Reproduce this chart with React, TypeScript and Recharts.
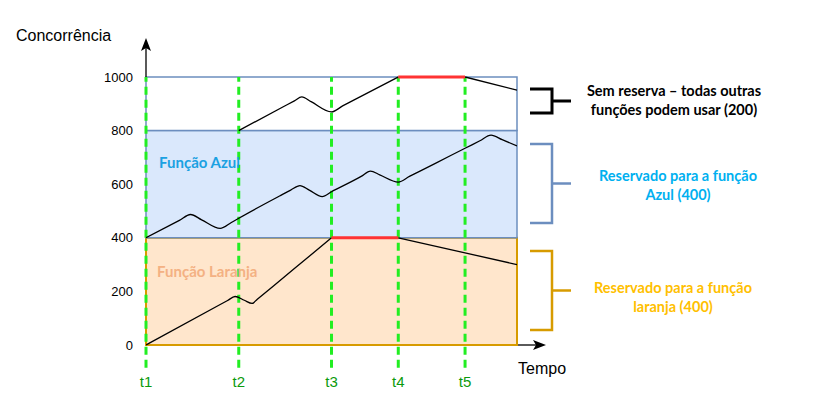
import React from 'react'
import { LineChart, Line, XAxis, YAxis, ReferenceArea, ReferenceLine } from 'recharts'

// time positions (t1..t5) on a 0..100 scale, the chart ends at 100
const tickTimes = [0, 25, 50, 68, 86]
const tickLabels = ['t1', 't2', 't3', 't4', 't5']
const yTicks = [0, 200, 400, 600, 800, 1000]

// orange function usage
const orangeRise = [
  { x: 0, y: 0 },
  { x: 20, y: 151 },
  { x: 22, y: 166 },
  { x: 24, y: 181 },
  { x: 26.5, y: 167 },
  { x: 28.6, y: 155 },
  { x: 30, y: 171 },
  { x: 40, y: 285 },
  { x: 50, y: 400 }
]
const orangeFall = [
  { x: 68, y: 400 },
  { x: 100, y: 300 }
]

// blue function usage
const blueLine = [
  { x: 0, y: 400 },
  { x: 9, y: 465 },
  { x: 12, y: 487 },
  { x: 15, y: 467 },
  { x: 20, y: 435 },
  { x: 23, y: 457 },
  { x: 25, y: 473 },
  { x: 36, y: 556 },
  { x: 39, y: 578 },
  { x: 41.5, y: 595 },
  { x: 44, y: 578 },
  { x: 47.5, y: 554 },
  { x: 50, y: 572 },
  { x: 56, y: 614 },
  { x: 58, y: 629 },
  { x: 60.5, y: 649 },
  { x: 63, y: 635 },
  { x: 68, y: 608 },
  { x: 71, y: 629 },
  { x: 78, y: 678 },
  { x: 86, y: 734 },
  { x: 90, y: 762 },
  { x: 93, y: 783 },
  { x: 96, y: 766 },
  { x: 100, y: 743 }
]

// usage of the unreserved pool
const topRise = [
  { x: 25, y: 800 },
  { x: 37, y: 889 },
  { x: 40, y: 911 },
  { x: 42, y: 926 },
  { x: 44.5, y: 908 },
  { x: 50, y: 870 },
  { x: 53, y: 892 },
  { x: 68, y: 1000 }
]
const topFall = [
  { x: 86, y: 1000 },
  { x: 100, y: 951 }
]

// throttled (limit reached) segments
const redLow = [
  { x: 50, y: 400 },
  { x: 68, y: 400 }
]
const redHigh = [
  { x: 68, y: 1000 },
  { x: 86, y: 1000 }
]

const FONT = '"Liberation Sans", Arial, sans-serif'
const LABEL_FONT = 'Lato, "Open Sans", sans-serif'

function Bracket({ top, bottom, color, width }: { top: number; bottom: number; color: string; width: number }) {
  const mid = (top + bottom) / 2
  return (
    <g stroke={color} strokeWidth={width} fill='none'>
      <polyline points={`530,${top} 552,${top} 552,${bottom} 530,${bottom}`} />
      <line x1={552} y1={mid} x2={571} y2={mid} />
    </g>
  )
}

export default function App() {
  return (
    <div style={{ position: 'relative', width: 823, height: 415, fontFamily: FONT }}>
      <style>{'body{margin:0}'}</style>
      <LineChart
        width={823}
        height={415}
        margin={{ top: 77, right: 306, bottom: 30, left: 86 }}
        style={{ fontFamily: FONT }}
      >
        <XAxis
          dataKey='x'
          type='number'
          domain={[0, 100]}
          ticks={tickTimes}
          tickFormatter={(v: number) => tickLabels[tickTimes.indexOf(v)]}
          axisLine={false}
          tickLine={false}
          tickMargin={25}
          height={40}
          tick={{ fill: '#0c9a0c', fontSize: 15 }}
          allowDataOverflow
        />
        <YAxis
          type='number'
          domain={[0, 1000]}
          ticks={yTicks}
          axisLine={false}
          tickLine={false}
          tickMargin={7}
          width={60}
          tick={{ fill: '#000', fontSize: 13 }}
        />
        <ReferenceArea x1={0} x2={100} y1={0} y2={400} fill='#ffe6cc' fillOpacity={1} stroke='#d79b00' strokeWidth={2} />
        <ReferenceArea x1={0} x2={100} y1={400} y2={800} fill='#dae8fc' fillOpacity={1} stroke='#6c8ebf' strokeWidth={1.5} />
        <ReferenceArea x1={0} x2={100} y1={800} y2={1000} fill='#ffffff' fillOpacity={1} stroke='#6c8ebf' strokeWidth={1.5} />
        {tickTimes.map((t) => (
          <ReferenceLine
            key={t}
            segment={[
              { x: t, y: -85 },
              { x: t, y: 1000 }
            ]}
            stroke='#22ee22'
            strokeWidth={3}
            strokeDasharray='8 5'
            ifOverflow='visible'
          />
        ))}
        <Line data={orangeRise} dataKey='y' type='monotone' stroke='#000' strokeWidth={1.3} dot={false} isAnimationActive={false} />
        <Line data={orangeFall} dataKey='y' type='linear' stroke='#000' strokeWidth={1.3} dot={false} isAnimationActive={false} />
        <Line data={blueLine} dataKey='y' type='monotone' stroke='#000' strokeWidth={1.3} dot={false} isAnimationActive={false} />
        <Line data={topRise} dataKey='y' type='monotone' stroke='#000' strokeWidth={1.3} dot={false} isAnimationActive={false} />
        <Line data={topFall} dataKey='y' type='linear' stroke='#000' strokeWidth={1.3} dot={false} isAnimationActive={false} />
        <Line data={redLow} dataKey='y' type='linear' stroke='#ff3333' strokeWidth={3} dot={false} isAnimationActive={false} />
        <Line data={redHigh} dataKey='y' type='linear' stroke='#ff3333' strokeWidth={3} dot={false} isAnimationActive={false} />
      </LineChart>
      <svg
        width={823}
        height={415}
        style={{ position: 'absolute', left: 0, top: 0, pointerEvents: 'none' }}
      >
        {/* axis arrows */}
        <line x1={146} y1={77} x2={146} y2={46} stroke='#000' strokeWidth={1.3} />
        <polygon points='146,38 141,51 146,48 151,51' fill='#000' />
        <line x1={518} y1={345} x2={538} y2={345} stroke='#000' strokeWidth={1.3} />
        <polygon points='546,345 533,340 536,345 533,350' fill='#000' />
        <text x={16} y={41} fontSize={16} fill='#000' fontFamily={FONT}>Concorrência</text>
        <text x={518} y={374} fontSize={16} fill='#000' fontFamily={FONT}>Tempo</text>

        <text x={159} y={168} fontSize={15} fontWeight='bold' fill='#1ba1e2' fontFamily={LABEL_FONT}>Função Azul</text>
        <text x={157} y={277} fontSize={15} fontWeight='bold' fill='#f4b183' fontFamily={LABEL_FONT}>Função Laranja</text>

        <Bracket top={89} bottom={113} color='#000' width={3} />
        <Bracket top={144} bottom={223} color='#6c8ebf' width={2.5} />
        <Bracket top={251} bottom={330} color='#d79b00' width={2.5} />

        <g fontFamily={LABEL_FONT} fontWeight='bold' fontSize={14.5} textAnchor='middle'>
          <text x={674} y={96} fill='#000'>Sem reserva – todas outras</text>
          <text x={674} y={115} fill='#000'>funções podem usar (200)</text>
          <text x={678} y={181} fill='#00b0f0'>Reservado para a função</text>
          <text x={678} y={200} fill='#00b0f0'>Azul (400)</text>
          <text x={673} y={293} fill='#ffc000'>Reservado para a função</text>
          <text x={673} y={312} fill='#ffc000'>laranja (400)</text>
        </g>
      </svg>
    </div>
  )
}
